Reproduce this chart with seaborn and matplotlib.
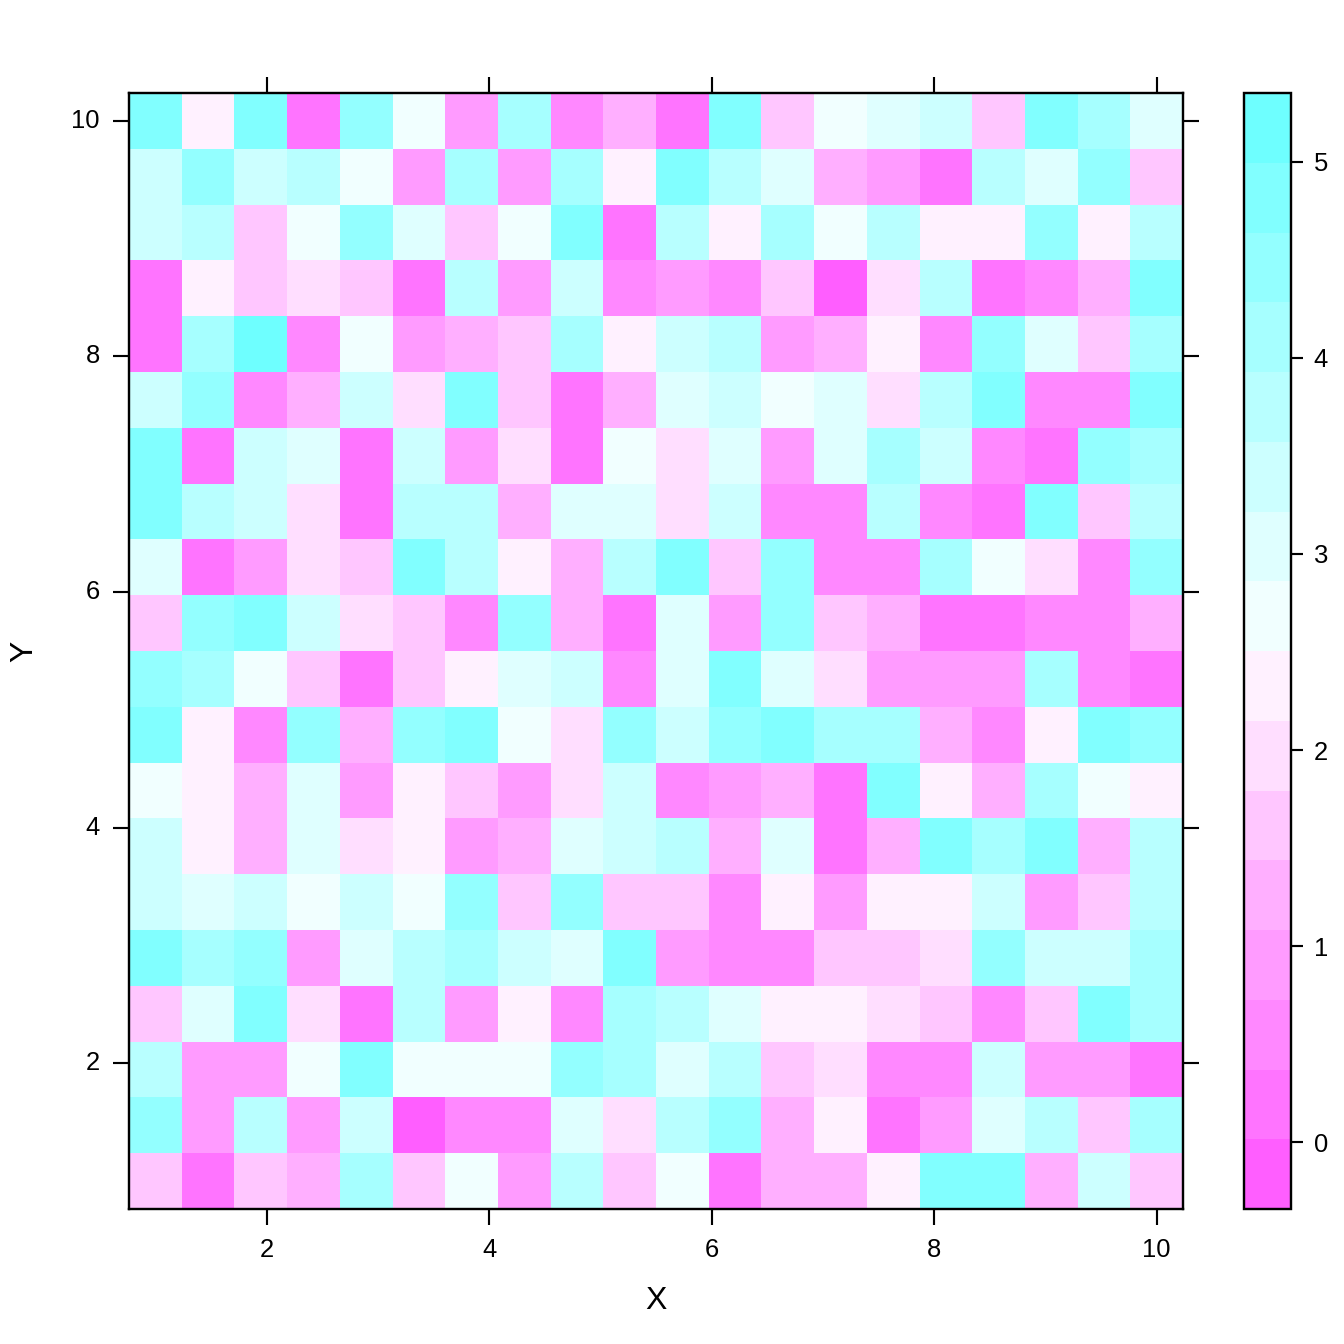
import numpy as np
import pandas as pd
import seaborn as sns
import matplotlib
matplotlib.use("Agg")
import matplotlib.pyplot as plt
from matplotlib.colors import ListedColormap, BoundaryNorm
from matplotlib.ticker import NullLocator

# grid coordinates (seq(1, 10, length = 20))
x_vals = [1.0, 1.474, 1.947, 2.421, 2.895, 3.368, 3.842, 4.316, 4.789, 5.263,
          5.737, 6.211, 6.684, 7.158, 7.632, 8.105, 8.579, 9.053, 9.526, 10.0]
y_vals = [1.0, 1.474, 1.947, 2.421, 2.895, 3.368, 3.842, 4.316, 4.789, 5.263,
          5.737, 6.211, 6.684, 7.158, 7.632, 8.105, 8.579, 9.053, 9.526, 10.0]

# cell values, rows from Y = 10 (top) down to Y = 1
z_rows = [
    [4.82, 2.33, 4.82, 0.19, 4.46, 2.68, 0.90, 4.11, 0.55, 1.26, 0.19, 4.82, 1.61, 2.68, 3.04, 3.39, 1.61, 4.82, 4.11, 3.04],
    [3.39, 4.46, 3.39, 3.75, 2.68, 0.90, 4.11, 0.90, 4.11, 2.33, 4.82, 3.75, 3.04, 1.26, 0.90, 0.19, 3.75, 3.04, 4.46, 1.61],
    [3.39, 3.75, 1.61, 2.68, 4.46, 3.04, 1.61, 2.68, 4.82, 0.19, 3.75, 2.33, 4.11, 2.68, 3.75, 2.33, 2.33, 4.46, 2.33, 3.75],
    [0.19, 2.33, 1.61, 1.97, 1.61, 0.19, 3.75, 0.90, 3.39, 0.55, 0.90, 0.55, 1.61, -0.16, 1.97, 3.75, 0.19, 0.55, 1.26, 4.82],
    [0.19, 4.11, 5.17, 0.55, 2.68, 0.90, 1.26, 1.61, 4.11, 2.33, 3.39, 3.75, 0.90, 1.26, 2.33, 0.55, 4.46, 3.04, 1.61, 4.11],
    [3.39, 4.46, 0.55, 1.26, 3.39, 1.97, 4.82, 1.61, 0.19, 1.26, 3.04, 3.39, 2.68, 3.04, 1.97, 3.75, 4.82, 0.55, 0.55, 4.82],
    [4.82, 0.19, 3.39, 3.04, 0.19, 3.39, 0.90, 1.97, 0.19, 2.68, 1.97, 3.04, 0.90, 3.04, 4.11, 3.39, 0.55, 0.19, 4.46, 4.11],
    [4.82, 3.75, 3.39, 1.97, 0.19, 3.75, 3.75, 1.26, 3.04, 3.04, 1.97, 3.39, 0.55, 0.55, 3.75, 0.55, 0.19, 4.82, 1.61, 3.75],
    [3.04, 0.19, 0.90, 1.97, 1.61, 4.82, 3.75, 2.33, 1.26, 3.75, 4.82, 1.61, 4.46, 0.55, 0.55, 4.11, 2.68, 1.97, 0.55, 4.46],
    [1.61, 4.46, 4.82, 3.39, 1.97, 1.61, 0.55, 4.46, 1.26, 0.19, 3.04, 0.90, 4.46, 1.61, 1.26, 0.19, 0.19, 0.55, 0.55, 1.26],
    [4.46, 4.11, 2.68, 1.61, 0.19, 1.61, 2.33, 3.04, 3.39, 0.55, 3.04, 4.82, 3.04, 1.97, 0.90, 0.90, 0.90, 4.11, 0.55, 0.19],
    [4.82, 2.33, 0.55, 4.46, 1.26, 4.46, 4.82, 2.68, 1.97, 4.46, 3.39, 4.46, 4.82, 4.11, 4.11, 1.26, 0.55, 2.33, 4.82, 4.46],
    [2.68, 2.33, 1.26, 3.04, 0.90, 2.33, 1.61, 0.90, 1.97, 3.39, 0.55, 0.90, 1.26, 0.19, 4.82, 2.33, 1.26, 4.11, 2.68, 2.33],
    [3.39, 2.33, 1.26, 3.04, 1.97, 2.33, 0.90, 1.26, 3.04, 3.39, 3.75, 1.26, 3.04, 0.19, 1.26, 4.82, 4.11, 4.82, 1.26, 3.75],
    [3.39, 3.04, 3.39, 2.68, 3.39, 2.68, 4.46, 1.61, 4.46, 1.61, 1.61, 0.55, 2.33, 0.90, 2.33, 2.33, 3.39, 0.90, 1.61, 3.75],
    [4.82, 4.11, 4.46, 0.90, 3.04, 3.75, 4.11, 3.39, 3.04, 4.82, 0.90, 0.55, 0.55, 1.61, 1.61, 1.97, 4.46, 3.39, 3.39, 4.11],
    [1.61, 3.04, 4.82, 1.97, 0.19, 3.75, 0.90, 2.33, 0.55, 4.11, 3.75, 3.04, 2.33, 2.33, 1.97, 1.61, 0.55, 1.61, 4.82, 4.11],
    [3.75, 0.90, 0.90, 2.68, 4.82, 2.68, 2.68, 2.68, 4.46, 4.11, 3.04, 3.75, 1.61, 1.97, 0.55, 0.55, 3.39, 0.90, 0.90, 0.19],
    [4.46, 0.90, 3.75, 0.90, 3.39, -0.16, 0.55, 0.55, 3.04, 1.97, 3.75, 4.46, 1.26, 2.33, 0.19, 0.90, 3.04, 3.75, 1.61, 4.11],
    [1.61, 0.19, 1.61, 1.26, 4.11, 1.61, 2.68, 0.90, 3.75, 1.61, 2.68, 0.19, 1.26, 1.26, 2.33, 4.82, 4.82, 1.26, 3.39, 1.61],
]

# lattice-like magenta -> white -> cyan regions, 16 levels
level_colors = ["#FF5EFF", "#FF74FF", "#FF88FF", "#FF9BFF", "#FFAFFF", "#FFC6FF",
                "#FFDEFF", "#FFF1FF", "#F1FFFF", "#DFFFFF", "#CCFFFF", "#B8FFFF",
                "#A6FFFF", "#93FFFF", "#81FFFF", "#6EFFFF"]
z_min, z_max = -0.34, 5.35
bar_ticks = [0, 1, 2, 3, 4, 5]
axis_ticks = [2, 4, 6, 8, 10]

sns.set_style("white")
plt.rcParams['font.family'] = ['Liberation Sans', 'DejaVu Sans']
plt.rcParams['text.color'] = 'black'
plt.rcParams['axes.labelcolor'] = 'black'
plt.rcParams['xtick.color'] = 'black'
plt.rcParams['ytick.color'] = 'black'

df = pd.DataFrame(z_rows, index=y_vals[::-1], columns=x_vals)
bounds = np.linspace(z_min, z_max, len(level_colors) + 1)
cmap = ListedColormap(level_colors)
norm = BoundaryNorm(bounds, cmap.N)

W = 1344.0
fig = plt.figure(figsize=(7, 7), dpi=192)
ax = fig.add_axes([129 / W, 1 - 1209 / W, 1054 / W, 1116 / W])
cax = fig.add_axes([1244 / W, 1 - 1209 / W, 47 / W, 1116 / W])

sns.heatmap(df, ax=ax, cbar_ax=cax, cmap=cmap, norm=norm, linewidths=0)

# numeric ticks placed onto the heatmap's cell index axis
cell_pos = np.arange(len(x_vals)) + 0.5
xpos = np.interp(axis_ticks, x_vals, cell_pos)
ypos = len(y_vals) - np.interp(axis_ticks, y_vals, cell_pos)
ax.set_xticks(xpos)
ax.set_xticklabels([str(t) for t in axis_ticks], rotation=0)
ax.set_yticks(ypos)
ax.set_yticklabels([str(t) for t in axis_ticks], rotation=0)

for s in ax.spines.values():
    s.set_visible(True)
    s.set_linewidth(0.9)
    s.set_color("black")
ax.tick_params(axis="both", direction="out", length=6, width=0.8, color="black",
               labelcolor="black", labelsize=9.6, pad=5, bottom=True, left=True,
               top=True, right=True, labeltop=False, labelright=False)
ax.set_xlabel("X", fontsize=12, labelpad=9, color="black")
ax.set_ylabel("Y", fontsize=12, labelpad=12, color="black")

cb = ax.collections[0].colorbar
cb.outline.set_visible(True)
cb.outline.set_linewidth(0.9)
cb.outline.set_edgecolor("black")
cb.set_ticks(bar_ticks)
cb.set_ticklabels([str(t) for t in bar_ticks])
cax.yaxis.set_minor_locator(NullLocator())
cax.tick_params(which="minor", length=0)
cax.tick_params(direction="out", length=4.5, width=0.8, color="black",
                labelcolor="black", labelsize=9.6, pad=4, right=True, left=False)

fig.savefig("out.png", dpi=192)
